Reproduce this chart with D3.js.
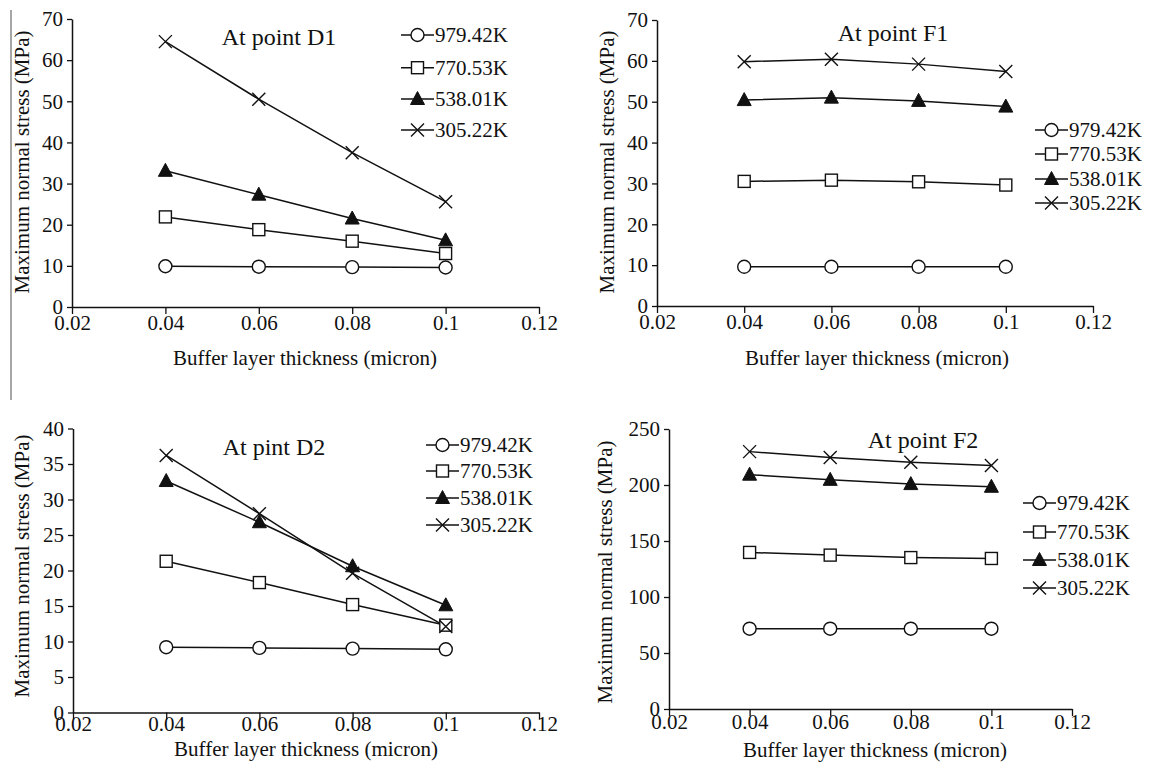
<!DOCTYPE html>
<html>
<head>
<meta charset="utf-8">
<script src="https://cdn.jsdelivr.net/npm/d3@7"></script>
<style>
  html, body { margin: 0; padding: 0; background: #fff; }
  svg { display: block; }
  text { font-family: "Liberation Serif", "Times New Roman", serif; fill: #111; }
</style>
</head>
<body>
<svg id="chart" width="1152" height="770"></svg>
<script>
// ---------------- DATA ----------------
const thickness = [0.04, 0.06, 0.08, 0.1];
const seriesNames = ["979.42K", "770.53K", "538.01K", "305.22K"];
const markerTypes = ["circle", "square", "triangle", "cross"];

const xTicks = [0.02, 0.04, 0.06, 0.08, 0.1, 0.12];
const xTickLabels = ["0.02", "0.04", "0.06", "0.08", "0.1", "0.12"];

const yTicksD1 = [0, 10, 20, 30, 40, 50, 60, 70];
const yTicksF1 = [0, 10, 20, 30, 40, 50, 60, 70];
const yTicksD2 = [0, 5, 10, 15, 20, 25, 30, 35, 40];
const yTicksF2 = [0, 50, 100, 150, 200, 250];

const panelTitles = ["At point D1", "At point F1", "At pint D2", "At point F2"];
const xAxisTitle = "Buffer layer thickness (micron)";
const yAxisTitle = "Maximum normal stress (MPa)";

// D1
const d1K979 = [9.9, 9.8, 9.7, 9.6];
const d1K770 = [21.9, 18.8, 16.0, 13.0];
const d1K538 = [33.1, 27.3, 21.5, 16.2];
const d1K305 = [64.5, 50.5, 37.5, 25.6];
// F1
const f1K979 = [9.6, 9.6, 9.6, 9.6];
const f1K770 = [30.5, 30.8, 30.4, 29.6];
const f1K538 = [50.4, 51.0, 50.2, 48.8];
const f1K305 = [59.8, 60.4, 59.2, 57.4];
// D2
const d2K979 = [9.2, 9.1, 9.0, 8.9];
const d2K770 = [21.3, 18.3, 15.2, 12.3];
const d2K538 = [32.6, 26.8, 20.6, 15.1];
const d2K305 = [36.2, 28.0, 19.6, 12.1];
// F2
const f2K979 = [71.7, 71.7, 71.7, 71.7];
const f2K770 = [139.8, 137.4, 135.2, 134.4];
const f2K538 = [209.2, 204.6, 200.8, 198.4];
const f2K305 = [229.8, 224.6, 220.4, 217.4];

// ---------------- LAYOUT ----------------
const panels = [
  { title: panelTitles[0], series: [d1K979, d1K770, d1K538, d1K305], yDomain: [0, 70], yTicks: yTicksD1,
    x0: 72, x1: 539, y0: 307, y1: 19, tickLabelDy: 23, xTitleX: 305, xTitleY: 358, yTitleX: 22, yTitleY: 162,
    titleX: 279, titleY: 37, legX: 401, legY: [35, 67.7, 99, 130] },
  { title: panelTitles[1], series: [f1K979, f1K770, f1K538, f1K305], yDomain: [0, 70], yTicks: yTicksF1,
    x0: 657, x1: 1093, y0: 306, y1: 20, tickLabelDy: 23, xTitleX: 877, xTitleY: 358, yTitleX: 607, yTitleY: 162,
    titleX: 893, titleY: 33, legX: 1035, legY: [130, 154, 179, 203] },
  { title: panelTitles[2], series: [d2K979, d2K770, d2K538, d2K305], yDomain: [0, 40], yTicks: yTicksD2,
    x0: 73, x1: 539, y0: 712.5, y1: 428.5, tickLabelDy: 18, xTitleX: 306, xTitleY: 749, yTitleX: 22, yTitleY: 566,
    titleX: 274, titleY: 447, legX: 426, legY: [445, 471, 498, 525] },
  { title: panelTitles[3], series: [f2K979, f2K770, f2K538, f2K305], yDomain: [0, 250], yTicks: yTicksF2,
    x0: 669, x1: 1072, y0: 709, y1: 429, tickLabelDy: 20, xTitleX: 875, xTitleY: 750, yTitleX: 605, yTitleY: 572,
    titleX: 923, titleY: 440, legX: 1023, legY: [503, 532, 560, 588] }
];

const svg = d3.select("#chart");
const FS = 21;

// stray vertical rule at left of the original figure
svg.append("line").attr("x1", 11).attr("x2", 11).attr("y1", 10).attr("y2", 400)
  .attr("stroke", "#888").attr("stroke-width", 1.5);

function drawMarker(g, type, cx, cy) {
  if (type === "circle") {
    g.append("circle").attr("cx", cx).attr("cy", cy).attr("r", 6.5)
      .attr("fill", "#fff").attr("stroke", "#111").attr("stroke-width", 1.4);
  } else if (type === "square") {
    g.append("rect").attr("x", cx - 6).attr("y", cy - 6).attr("width", 12).attr("height", 12)
      .attr("fill", "#fff").attr("stroke", "#111").attr("stroke-width", 1.4);
  } else if (type === "triangle") {
    g.append("path").attr("d", `M${cx},${cy - 7.5}L${cx + 7},${cy + 5.5}L${cx - 7},${cy + 5.5}Z`)
      .attr("fill", "#111").attr("stroke", "#111").attr("stroke-width", 1);
  } else {
    const s = 6.5;
    g.append("path").attr("d", `M${cx - s},${cy - s}L${cx + s},${cy + s}M${cx - s},${cy + s}L${cx + s},${cy - s}`)
      .attr("stroke", "#111").attr("stroke-width", 1.4).attr("fill", "none");
  }
}

panels.forEach(p => {
  const x = d3.scaleLinear().domain([0.02, 0.12]).range([p.x0, p.x1]);
  const y = d3.scaleLinear().domain(p.yDomain).range([p.y0, p.y1]);
  const g = svg.append("g");

  // X axis
  const xAxis = d3.axisBottom(x).tickValues(xTicks).tickFormat((d, i) => xTickLabels[i])
    .tickSize(7).tickSizeOuter(0).tickPadding(3);
  const gx = g.append("g").attr("transform", `translate(0,${p.y0})`).call(xAxis);
  gx.select(".domain").attr("stroke", "#111").attr("stroke-width", 1.5);
  gx.selectAll(".tick line").attr("stroke", "#111").attr("stroke-width", 1.3);
  gx.selectAll(".tick text").attr("font-size", FS).attr("dy", null).attr("y", p.tickLabelDy)
    .attr("font-family", "Liberation Serif").attr("fill", "#111");

  // Y axis
  const yAxis = d3.axisLeft(y).tickValues(p.yTicks).tickFormat(d3.format("d"))
    .tickSize(5).tickSizeOuter(0).tickPadding(4);
  const gy = g.append("g").attr("transform", `translate(${p.x0},0)`).call(yAxis);
  gy.select(".domain").attr("stroke", "#111").attr("stroke-width", 1.5);
  gy.selectAll(".tick line").attr("stroke", "#111").attr("stroke-width", 1.3);
  gy.selectAll(".tick text").attr("font-size", FS).attr("font-family", "Liberation Serif").attr("fill", "#111");

  // Axis titles
  g.append("text").attr("x", p.xTitleX).attr("y", p.xTitleY)
    .attr("dy", "0.35em").attr("text-anchor", "middle").attr("font-size", FS).text(xAxisTitle);
  g.append("text").attr("transform", `translate(${p.yTitleX},${p.yTitleY}) rotate(-90)`)
    .attr("dy", "0.35em").attr("text-anchor", "middle").attr("font-size", FS).text(yAxisTitle);

  // Panel title
  g.append("text").attr("x", p.titleX).attr("y", p.titleY).attr("dy", "0.35em")
    .attr("text-anchor", "middle").attr("font-size", 24).text(p.title);

  // Series
  const line = d3.line().x((d, i) => x(thickness[i])).y(d => y(d));
  p.series.forEach((vals, si) => {
    g.append("path").datum(vals).attr("d", line).attr("fill", "none")
      .attr("stroke", "#111").attr("stroke-width", 1.5);
  });
  p.series.forEach((vals, si) => {
    vals.forEach((v, i) => drawMarker(g, markerTypes[si], x(thickness[i]), y(v)));
  });

  // Legend
  seriesNames.forEach((name, si) => {
    const ly = p.legY[si];
    g.append("line").attr("x1", p.legX).attr("x2", p.legX + 33).attr("y1", ly).attr("y2", ly)
      .attr("stroke", "#111").attr("stroke-width", 1.4);
    drawMarker(g, markerTypes[si], p.legX + 16.5, ly);
    g.append("text").attr("x", p.legX + 34).attr("y", ly).attr("dy", "0.35em")
      .attr("font-size", FS).text(name);
  });
});
</script>
</body>
</html>
